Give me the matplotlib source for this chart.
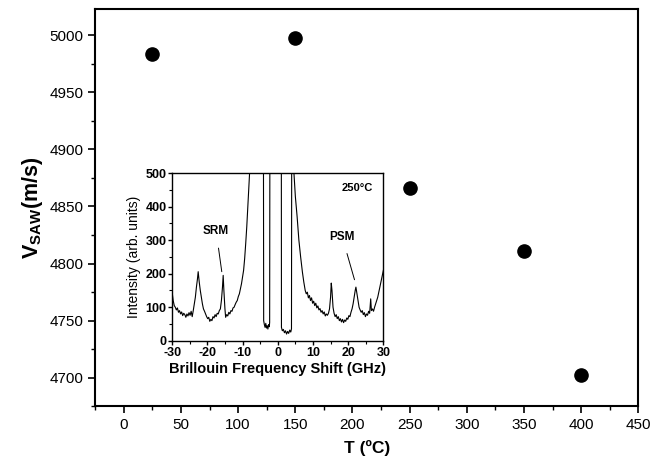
import numpy as np
import matplotlib
matplotlib.use('Agg')
import matplotlib.pyplot as plt
from matplotlib.ticker import MultipleLocator

plt.rcParams['font.family'] = ['Liberation Sans', 'DejaVu Sans']
plt.rcParams['mathtext.fontset'] = 'custom'
plt.rcParams['mathtext.rm'] = 'Liberation Sans'
plt.rcParams['mathtext.bf'] = 'Liberation Sans:bold'
plt.rcParams['axes.unicode_minus'] = False

# --- main data: SAW velocity vs temperature ---
temp = [25, 150, 250, 350, 400]
v_saw = [4984, 4998, 4866, 4811, 4702]

# --- inset: Brillouin spectrum at 250 C ---
shift = [-30.0, -29.7, -29.4, -29.1, -28.8, -28.5, -28.2, -27.9, -27.6, -27.3,
         -27.0, -26.7, -26.4, -26.1, -25.8, -25.5, -25.2, -24.9, -24.6, -24.3,
         -24.0, -23.7, -23.4, -23.1, -22.8, -22.6, -22.3, -22.0, -21.7, -21.4,
         -21.1, -20.8, -20.5, -20.2, -19.9, -19.6, -19.3, -19.0, -18.7, -18.4,
         -18.1, -17.8, -17.5, -17.2, -16.9, -16.6, -16.3, -16.0, -15.7, -15.5,
         -15.3, -15.0, -14.8, -14.5, -14.2, -13.9, -13.6, -13.3, -13.0, -12.7,
         -12.4, -12.1, -11.8, -11.5, -11.2, -10.9, -10.6, -10.3, -10.0, -9.7,
         -9.4, -9.1, -8.8, -8.5, -8.2, -7.9, -7.5, -4.1, -4.0, -3.8,
         -3.6, -3.4, -3.2, -3.0, -2.8, -2.6, -2.4, -2.3, -2.2, 1.0,
         1.05, 1.3, 1.6, 1.9, 2.2, 2.5, 2.8, 3.1, 3.4, 3.7,
         3.9, 4.0, 4.5, 4.6, 5.0, 5.5, 6.0, 6.5, 7.0, 7.4,
         7.8, 8.1, 8.4, 8.7, 9.0, 9.3, 9.6, 9.9, 10.2, 10.5,
         10.8, 11.1, 11.4, 11.7, 12.0, 12.3, 12.6, 12.9, 13.2, 13.5,
         13.8, 14.1, 14.4, 14.7, 15.0, 15.2, 15.4, 15.7, 16.0, 16.3,
         16.6, 16.9, 17.2, 17.5, 17.8, 18.1, 18.4, 18.7, 19.0, 19.3,
         19.6, 19.9, 20.2, 20.5, 20.8, 21.1, 21.4, 21.7, 22.0, 22.2,
         22.5, 22.8, 23.1, 23.4, 23.7, 24.0, 24.3, 24.6, 24.9, 25.2,
         25.5, 25.8, 26.1, 26.4, 26.6, 26.9, 27.2, 27.5, 27.8, 28.1,
         28.4, 28.7, 29.0, 29.3, 29.6, 30.0]
intensity = [145, 120, 105, 100, 92, 98, 85, 90, 80, 86,
             75, 82, 78, 70, 80, 74, 84, 76, 88, 72,
             90, 110, 130, 160, 185, 206, 175, 150, 130, 110,
             95, 88, 80, 72, 66, 70, 58, 64, 60, 72,
             68, 78, 72, 82, 80, 90, 95, 120, 160, 195,
             150, 95, 70, 78, 74, 85, 80, 90, 88, 98,
             100, 108, 115, 120, 132, 140, 155, 170, 190, 210,
             245, 290, 340, 400, 460, 520, 900, 900, 60, 48,
             40, 52, 38, 45, 35, 48, 42, 55, 900, 900,
             40, 30, 34, 24, 30, 20, 28, 22, 32, 26,
             36, 900, 560, 500, 430, 370, 300, 250, 205, 175,
             150, 140, 145, 128, 135, 120, 128, 112, 118, 105,
             112, 98, 104, 92, 96, 85, 90, 80, 86, 74,
             80, 76, 82, 95, 130, 172, 150, 100, 82, 72,
             78, 66, 72, 60, 66, 56, 64, 54, 62, 58,
             68, 64, 75, 72, 85, 95, 110, 130, 150, 160,
             140, 118, 100, 92, 85, 90, 78, 84, 72, 80,
             76, 88, 82, 125, 90, 95, 88, 100, 110, 120,
             130, 145, 160, 175, 190, 210]

fig = plt.figure(figsize=(6.52, 4.74), dpi=100)
ax = fig.add_axes([0.146, 0.143, 0.833, 0.838])

ax.plot(temp, v_saw, 'o', color='black', markersize=9.5)
ax.set_xlim(-25, 450)
ax.set_ylim(4675, 5023)
ax.xaxis.set_major_locator(MultipleLocator(50))
ax.xaxis.set_minor_locator(MultipleLocator(25))
ax.yaxis.set_major_locator(MultipleLocator(50))
ax.yaxis.set_minor_locator(MultipleLocator(25))
ax.tick_params(which='major', direction='out', length=5, width=1.2, labelsize=11)
ax.tick_params(which='minor', direction='out', length=3, width=1.0)
for s in ax.spines.values():
    s.set_linewidth(1.5)
ax.set_xlabel('T (ºC)', fontsize=12.5, fontweight='bold', labelpad=6)
ax.set_ylabel(r'$\mathbf{V}_{\mathbf{SAW}}$(m/s)', fontsize=15.5, fontweight='bold', labelpad=3)

# --- inset ---
axi = fig.add_axes([0.264, 0.281, 0.324, 0.354])
axi.plot(shift, intensity, color='black', linewidth=0.8)
axi.set_xlim(-30, 30)
axi.set_ylim(0, 500)
axi.xaxis.set_major_locator(MultipleLocator(10))
axi.xaxis.set_minor_locator(MultipleLocator(5))
axi.yaxis.set_major_locator(MultipleLocator(100))
axi.yaxis.set_minor_locator(MultipleLocator(50))
axi.tick_params(which='major', direction='out', length=3, width=1.0, labelsize=9)
axi.tick_params(axis='x', which='major', pad=1.5)
axi.tick_params(axis='y', which='major', pad=1)
axi.tick_params(which='minor', direction='out', length=2, width=0.8)
for lbl in axi.get_xticklabels() + axi.get_yticklabels():
    lbl.set_fontweight('bold')
for s in axi.spines.values():
    s.set_linewidth(1.0)
axi.set_xlabel('Brillouin Frequency Shift (GHz)', fontsize=10.5, fontweight='bold', labelpad=2)
axi.set_ylabel('Intensity (arb. units)', fontsize=10, labelpad=3)

axi.text(22.5, 455, '250°C', fontsize=8, fontweight='bold', ha='center', va='center')
axi.annotate('SRM', xy=(-15.9, 206), xytext=(-17.5, 327), fontsize=8.5, fontweight='bold',
             ha='center', va='center',
             arrowprops=dict(arrowstyle='-', color='black', lw=0.7, shrinkA=6, shrinkB=0))
axi.annotate('PSM', xy=(21.8, 182), xytext=(18.3, 310), fontsize=8.5, fontweight='bold',
             ha='center', va='center',
             arrowprops=dict(arrowstyle='-', color='black', lw=0.7, shrinkA=6, shrinkB=0))

fig.savefig('out.png', dpi=100)
